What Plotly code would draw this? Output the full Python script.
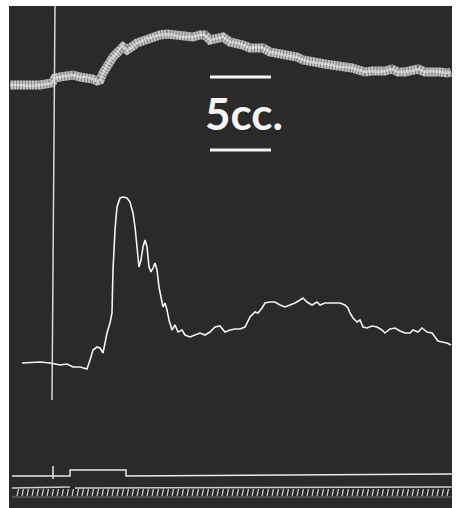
import plotly.graph_objects as go

# ---- data (time in chart units, heights in chart units above the bottom edge) ----
vol_t = [10, 20, 30, 40, 52, 55, 60, 67, 73, 80, 87, 93, 97, 100, 103, 107, 110, 113, 117, 120,
         123, 127, 130, 133, 137, 140, 143, 147, 150, 155, 160, 167, 173, 180, 187, 193, 200, 205,
         210, 217, 223, 230, 237, 243, 250, 257, 263, 270, 277, 283, 290, 297, 303, 310, 318, 325,
         332, 338, 345, 352, 358, 365, 372, 378, 385, 392, 398, 405, 412, 418, 425, 432, 440, 447, 451]
vol_y = [423, 423, 422, 423, 425, 430, 431, 432, 433, 431, 431, 429, 427, 428, 435, 443, 448, 451, 455, 460,
         461, 458, 459, 462, 465, 466, 468, 470, 470, 472, 473, 474, 473, 471, 471, 471, 473, 473,
         468, 470, 471, 466, 465, 463, 460, 461, 460, 456, 455, 453, 452, 451, 448, 446, 445, 444,
         443, 441, 441, 440, 438, 436, 437, 436, 437, 439, 436, 436, 437, 439, 436, 437, 436, 435, 436]

bp_t = [22, 40, 50, 60, 67, 73, 80, 87, 90, 93, 97, 100, 103, 107, 110, 112, 113, 115, 117, 120,
        123, 127, 130, 133, 135, 137, 139, 141, 143, 145, 147, 149, 151, 153, 155, 157, 159, 161,
        163, 165, 167, 169, 172, 175, 178, 182, 185, 190, 195, 200, 205, 210, 215, 220, 225, 230,
        235, 240, 245, 250, 255, 258, 262, 265, 270, 275, 280, 285, 290, 295, 300, 303, 307, 312,
        317, 320, 325, 330, 335, 340, 345, 348, 350, 353, 357, 360, 363, 367, 372, 377, 382, 385,
        390, 395, 400, 405, 410, 413, 418, 422, 427, 432, 435, 438, 442, 447, 451]
bp_y = [145, 146, 145, 143, 144, 141, 141, 139, 148, 158, 161, 160, 155, 175, 185, 195, 238, 278, 301, 310,
        311, 310, 306, 295, 281, 261, 241, 248, 261, 268, 261, 241, 236, 240, 245, 238, 221, 211,
        201, 205, 198, 188, 178, 183, 176, 178, 173, 171, 173, 175, 173, 176, 181, 182, 176, 178,
        179, 179, 181, 191, 196, 195, 200, 205, 206, 206, 203, 201, 203, 205, 208, 210, 206, 203,
        206, 203, 205, 205, 205, 205, 203, 200, 195, 190, 186, 188, 181, 180, 182, 181, 178, 175,
        179, 180, 177, 175, 175, 178, 176, 180, 176, 175, 171, 167, 166, 165, 163]

# signal (stimulus) marker
sig_start, sig_end = 70, 126
sig_base, sig_high = 32, 38
sig_range = [12, 452]
# second marker line (with a short gap)
mark2_segments = [(12, 70), (75, 452)]
mark2_level = 20
# moment marker (vertical line)
moment_t = [55, 52]
moment_y = [502, 108]
moment_tick_t = 53
# time signal
time_first, time_last, time_step = 17, 450, 5
time_low, time_high = 12, 19
# volume scale
scale_label = "5cc."
scale_bar_y = [431, 358]
scale_bar_x = [210, 271]
scale_label_pos = (244, 395)

BG = "#2a2a2a"
fig = go.Figure()

# volume trace (thick hatched band)
fig.add_trace(go.Scatter(x=vol_t, y=vol_y, mode="lines",
                         line=dict(color="rgba(220,220,220,0.85)", width=9), hoverinfo="skip"))
fig.add_trace(go.Scatter(x=vol_t, y=vol_y, mode="lines",
                         line=dict(color="rgba(42,42,42,0.45)", width=9, dash="1px,2px"),
                         hoverinfo="skip"))
fig.add_trace(go.Scatter(x=vol_t, y=vol_y, mode="lines",
                         line=dict(color="rgba(250,250,250,0.45)", width=2.5), hoverinfo="skip"))

# moment line
fig.add_trace(go.Scatter(x=moment_t, y=moment_y, mode="lines",
                         line=dict(color="#d8d8d8", width=1.5), hoverinfo="skip"))

# pressure trace
fig.add_trace(go.Scatter(x=bp_t, y=bp_y, mode="lines",
                         line=dict(color="#f2f2f2", width=1.6), hoverinfo="skip"))

# signal line
sx = [sig_range[0], sig_start, sig_start, sig_end, sig_end, sig_range[1]]
sy = [sig_base, sig_base, sig_high, sig_high, sig_base, sig_base + 2]
fig.add_trace(go.Scatter(x=sx, y=sy, mode="lines", line=dict(color="#e8e8e8", width=1.5),
                         hoverinfo="skip"))
fig.add_trace(go.Scatter(x=[moment_tick_t, moment_tick_t], y=[sig_base - 3, sig_base + 10],
                         mode="lines", line=dict(color="#e8e8e8", width=1.5), hoverinfo="skip"))

# second marker line
for a, b in mark2_segments:
    fig.add_trace(go.Scatter(x=[a, b], y=[mark2_level, mark2_level + 1], mode="lines",
                             line=dict(color="#cfcfcf", width=1.5), hoverinfo="skip"))

# time signal ticks
tx, ty = [], []
t = time_first
while t <= time_last:
    tx += [t, t + 1.5, None]
    ty += [time_low, time_high, None]
    t += time_step
fig.add_trace(go.Scatter(x=tx, y=ty, mode="lines", line=dict(color="#d0d0d0", width=1.2),
                         hoverinfo="skip"))
fig.add_trace(go.Scatter(x=[12, 452], y=[time_low - 1, time_low - 1], mode="lines",
                         line=dict(color="rgba(200,200,200,0.45)", width=1), hoverinfo="skip"))

# scale bars
for yb in scale_bar_y:
    fig.add_trace(go.Scatter(x=scale_bar_x, y=[yb, yb], mode="lines",
                             line=dict(color="#f4f4f4", width=3), hoverinfo="skip"))
fig.add_annotation(x=scale_label_pos[0], y=scale_label_pos[1], text=scale_label, showarrow=False,
                   font=dict(family="Lato", size=44, color="#f4f4f4", weight="bold"))

fig.update_layout(
    width=459, height=508,
    margin=dict(l=9, r=7, t=6, b=0, pad=0),
    paper_bgcolor="white", plot_bgcolor=BG,
    showlegend=False,
    xaxis=dict(range=[9, 452], visible=False, fixedrange=True),
    yaxis=dict(range=[0, 502], visible=False, fixedrange=True),
)
fig.write_html("out.html", config={"displayModeBar": False},
               post_script="document.body.style.margin='0';")
